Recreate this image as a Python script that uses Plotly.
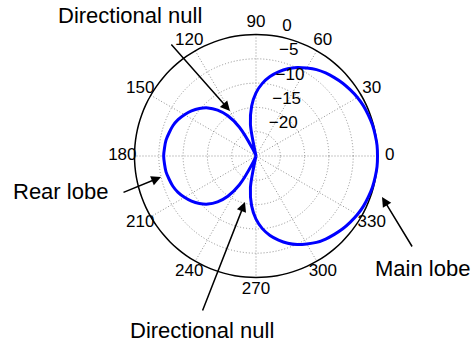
import plotly.graph_objects as go

# Hypercardioid response in dB, sampled every 5 degrees (clipped at the -25 dB floor)
angles_deg = list(range(0, 365, 5))
response_db = [
    0.0, -0.0, -0.1, -0.2, -0.4, -0.6, -0.9, -1.3, -1.7, -2.2, -2.7, -3.3,
    -4.1, -4.9, -5.9, -7.1, -8.4, -10.0, -12.0, -14.7, -18.4, -25.0, -25.0, -23.5,
    -18.1, -14.9, -12.7, -11.0, -9.8, -8.8, -8.0, -7.3, -6.8, -6.5, -6.2, -6.1,
    -6.0,
    -6.1, -6.2, -6.5, -6.8, -7.3, -8.0, -8.8, -9.8, -11.0, -12.7, -14.9, -18.1,
    -23.5, -25.0, -25.0, -18.4, -14.7, -12.0, -10.0, -8.4, -7.1, -5.9, -4.9, -4.1,
    -3.3, -2.7, -2.2, -1.7, -1.3, -0.9, -0.6, -0.4, -0.2, -0.1, -0.0, 0.0,
]

# Axis ticks
angle_ticks = list(range(0, 360, 30))
spoke_angles = list(range(0, 180, 30))
radial_ticks = [0, -5, -10, -15, -20]
radial_grid = [-20, -15, -10, -5]
r_min, r_max = -25, 0
radial_label_angle = 82
# angle labels sit on a ring at 1.1x the outer radius
label_ring = r_min + 1.1 * (r_max - r_min)

font_family = "Liberation Sans, Arial, sans-serif"
grid_color = "#8f8f8f"

fig = go.Figure()

# Dotted spokes through the centre
spoke_r, spoke_t = [], []
for a in spoke_angles:
    spoke_r += [r_max, r_min, r_max, None]
    spoke_t += [a, a, a + 180, None]
fig.add_trace(go.Scatterpolar(
    r=spoke_r, theta=spoke_t, mode="lines",
    line=dict(color=grid_color, width=1, dash="1px,2px"),
    connectgaps=False, showlegend=False, hoverinfo="skip",
))

# Solid outer ring at 0 dB
fig.add_trace(go.Scatterpolar(
    r=[r_max] * len(angles_deg), theta=angles_deg, mode="lines",
    line=dict(color="black", width=1.5, shape="spline"),
    showlegend=False, hoverinfo="skip",
))

# Response curve
fig.add_trace(go.Scatterpolar(
    r=response_db,
    theta=angles_deg,
    mode="lines",
    line=dict(color="#0000ff", width=3, shape="spline", smoothing=0.8),
    showlegend=False,
    hoverinfo="skip",
))

# Radial tick labels along the 82 degree spoke, padded to sit right of it
fig.add_trace(go.Scatterpolar(
    r=radial_ticks,
    theta=[radial_label_angle] * len(radial_ticks),
    mode="text",
    text=["\u00a0\u00a0" + str(v).replace("-", "\u2212") for v in radial_ticks],
    textposition="top right",
    textfont=dict(family=font_family, size=17, color="black"),
    cliponaxis=False,
    showlegend=False,
    hoverinfo="skip",
))

# Angle labels centred on the label ring
fig.add_trace(go.Scatterpolar(
    r=[label_ring] * len(angle_ticks),
    theta=angle_ticks,
    mode="text",
    text=[str(a) for a in angle_ticks],
    textposition="middle center",
    textfont=dict(family=font_family, size=17, color="black"),
    cliponaxis=False,
    showlegend=False,
    hoverinfo="skip",
))

W, H = 471, 343
cx, cy, R = 256, 156, 121.5 * 1.1

fig.update_layout(
    width=W,
    height=H,
    margin=dict(l=0, r=0, t=0, b=0),
    paper_bgcolor="white",
    plot_bgcolor="white",
    font=dict(family=font_family, size=17, color="black"),
    polar=dict(
        domain=dict(x=[(cx - R) / W, (cx + R) / W],
                    y=[(H - cy - R) / H, (H - cy + R) / H]),
        bgcolor="rgba(0,0,0,0)",
        radialaxis=dict(
            range=[r_min, label_ring],
            tickvals=radial_grid,
            showticklabels=False,
            ticks="",
            showline=False,
            showgrid=True,
            gridcolor=grid_color,
            griddash="1px,2px",
            gridwidth=1,
        ),
        angularaxis=dict(
            rotation=0,
            direction="counterclockwise",
            showticklabels=False,
            ticks="",
            showline=False,
            showgrid=False,
        ),
    ),
)


def px(x, y):
    return x / W, 1 - y / H


# Callout texts
labels = [
    ("Directional null", 130, 15),
    ("Rear lobe", 60, 191),
    ("Directional null", 202, 330),
    ("Main lobe", 422, 268),
]
for text, x, y in labels:
    xp, yp = px(x, y)
    fig.add_annotation(
        text=text, x=xp, y=yp, xref="paper", yref="paper",
        showarrow=False, xanchor="center", yanchor="middle",
        font=dict(family=font_family, size=22, color="black"),
    )

# Callout arrows: (tail x, tail y, head x, head y)
arrows = [
    (170, 43, 230, 111),
    (122, 193, 161, 177),
    (202, 312, 245, 202),
    (413, 248, 382, 197),
]
for tx, ty, hx, hy in arrows:
    xp, yp = px(hx, hy)
    fig.add_annotation(
        text="", x=xp, y=yp, xref="paper", yref="paper",
        ax=tx - hx, ay=ty - hy, axref="pixel", ayref="pixel",
        showarrow=True, arrowhead=2, arrowsize=1.3, arrowwidth=1.5,
        arrowcolor="black", standoff=0, startstandoff=0,
    )

fig.write_html("out.html")
